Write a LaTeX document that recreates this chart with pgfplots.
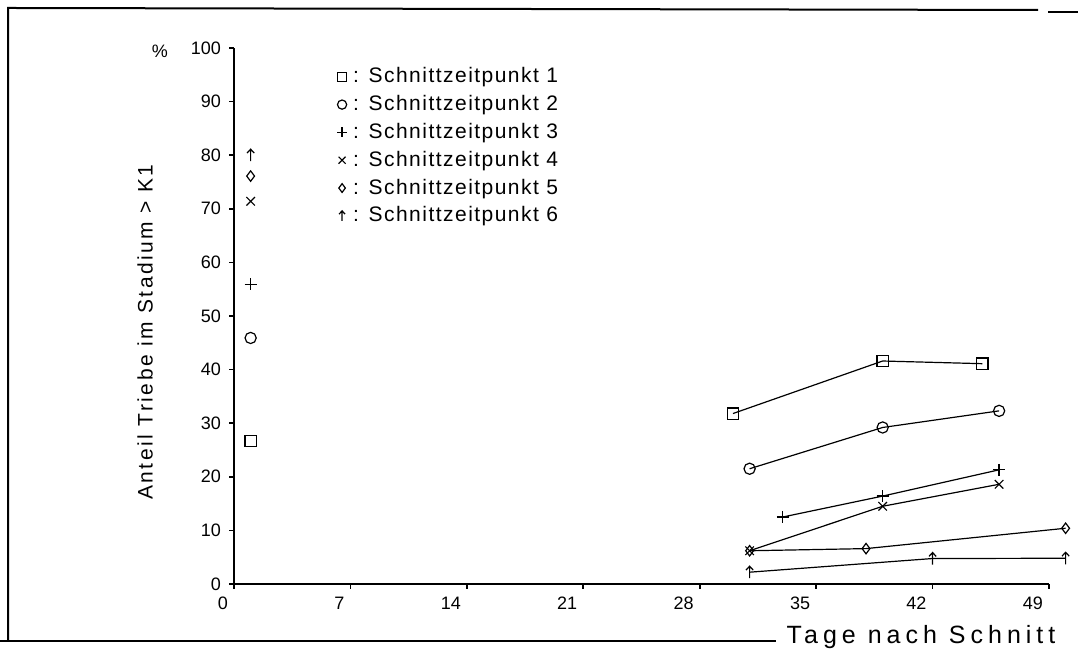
\documentclass[border=0pt]{standalone}
\usepackage{fontspec}
\setmainfont{Liberation Sans}
\newfontfamily\spacedfont[LetterSpace=12]{Liberation Sans}
\newfontfamily\legendfont[LetterSpace=7]{Liberation Sans}
\newfontfamily\widefont[LetterSpace=20]{Liberation Sans}
\usepackage{pgfplots}
\pgfplotsset{compat=1.18}

\pgfdeclareplotmark{uparrow}{%
  \pgfpathmoveto{\pgfpoint{0pt}{-\pgfplotmarksize}}%
  \pgfpathlineto{\pgfpoint{0pt}{\pgfplotmarksize}}%
  \pgfpathmoveto{\pgfpoint{-0.6\pgfplotmarksize}{0.35\pgfplotmarksize}}%
  \pgfpathlineto{\pgfpoint{0pt}{\pgfplotmarksize}}%
  \pgfpathlineto{\pgfpoint{0.6\pgfplotmarksize}{0.35\pgfplotmarksize}}%
  \pgfusepathqstroke}

\begin{document}
\begin{tikzpicture}[x=1pt,y=1pt]
\path[use as bounding box] (0,0) rectangle (539,325.5);
\draw[line width=1pt] (4,5) -- (4,321.5) -- (519,320.5);
\draw[line width=1pt] (524,319.5) -- (539,319.5);
\draw[line width=0.8pt] (0,5) -- (388,5);
\begin{axis}[
  at={(117pt,33.5pt)}, anchor=south west,
  width=407.5pt, height=268pt, scale only axis,
  xmin=0, xmax=49, ymin=0, ymax=100,
  axis x line=bottom, axis y line=left,
  axis line style={-, line width=1pt},
  xtick={0,7,...,49}, ytick={0,10,...,100},
  tick align=outside, major tick length=2.5pt,
  tick style={black, line width=0.8pt},
  /pgf/number format/assume math mode=true,
  ticklabel style={font=\fontsize{9}{10}\selectfont},
  xticklabel style={anchor=north east, xshift=0.5pt, yshift=-0.5pt},
  yticklabel style={xshift=-0.5pt},
  clip=false,
  legend style={draw=none, fill=none, at={(0.126,0.964)}, anchor=north west,
    font=\legendfont\fontsize{10.5}{12}\selectfont, row sep=4.8pt,
    inner sep=0pt, nodes={inner sep=0pt}, column sep=3pt},
  legend cell align=left,
  legend image code/.code={\draw[#1] plot coordinates {(0.1cm,0cm)};},
]
% Schnittzeitpunkt 1
\addplot[black, line width=0.6pt, mark=square, mark size=2.8pt, mark options={solid}, forget plot]
  coordinates {(30,31.8) (39,41.6) (45,41.1)};
\addplot[black, only marks, line width=0.6pt, mark=square, mark size=2.8pt, forget plot]
  coordinates {(1,26.7)};
% Schnittzeitpunkt 2
\addplot[black, line width=0.6pt, mark=o, mark size=2.8pt, mark options={solid}, forget plot]
  coordinates {(31,21.5) (39,29.2) (46,32.3)};
\addplot[black, only marks, line width=0.6pt, mark=o, mark size=2.8pt, forget plot]
  coordinates {(1,45.9)};
% Schnittzeitpunkt 3
\addplot[black, line width=0.6pt, mark=+, mark size=3pt, mark options={solid}, forget plot]
  coordinates {(33,12.5) (39,16.4) (46,21.3)};
\addplot[black, only marks, line width=0.6pt, mark=+, mark size=3pt, forget plot]
  coordinates {(1,55.9)};
% Schnittzeitpunkt 4
\addplot[black, line width=0.6pt, mark=x, mark size=3pt, mark options={solid}, forget plot]
  coordinates {(31,6.2) (39,14.5) (46,18.6)};
\addplot[black, only marks, line width=0.6pt, mark=x, mark size=3pt, forget plot]
  coordinates {(1,71.4)};
% Schnittzeitpunkt 5
\addplot[black, line width=0.6pt, mark=diamond, mark size=2.6pt, mark options={solid}, forget plot]
  coordinates {(31,6.2) (38,6.6) (50,10.4)};
\addplot[black, only marks, line width=0.6pt, mark=diamond, mark size=2.6pt, forget plot]
  coordinates {(1,76.1)};
% Schnittzeitpunkt 6
\addplot[black, line width=0.6pt, mark=uparrow, mark size=3pt, mark options={solid}, forget plot]
  coordinates {(31,2.2) (42,4.75) (50,4.8)};
\addplot[black, only marks, line width=0.6pt, mark=uparrow, mark size=3pt, forget plot]
  coordinates {(1,80.0)};

\addlegendimage{black, only marks, line width=0.6pt, mark=square, mark size=2.3pt}
\addlegendentry{: Schnittzeitpunkt 1}
\addlegendimage{black, only marks, line width=0.6pt, mark=o, mark size=2.3pt}
\addlegendentry{: Schnittzeitpunkt 2}
\addlegendimage{black, only marks, line width=0.6pt, mark=+, mark size=2.5pt}
\addlegendentry{: Schnittzeitpunkt 3}
\addlegendimage{black, only marks, line width=0.6pt, mark=x, mark size=2.5pt}
\addlegendentry{: Schnittzeitpunkt 4}
\addlegendimage{black, only marks, line width=0.6pt, mark=diamond, mark size=2.2pt}
\addlegendentry{: Schnittzeitpunkt 5}
\addlegendimage{black, only marks, line width=0.6pt, mark=uparrow, mark size=2.5pt}
\addlegendentry{: Schnittzeitpunkt 6}

\node[rotate=90, font=\spacedfont\fontsize{10.5}{12}\selectfont]
  at (axis description cs:-0.109,0.47) {Anteil Triebe im Stadium > K1};
\node[font=\fontsize{9}{10}\selectfont] at (axis description cs:-0.091,0.993) {\%};
\node[font=\widefont\fontsize{12.5}{14}\selectfont]
  at (axis description cs:0.843,-0.099) {Tage nach Schnitt};
\end{axis}
\end{tikzpicture}
\end{document}
